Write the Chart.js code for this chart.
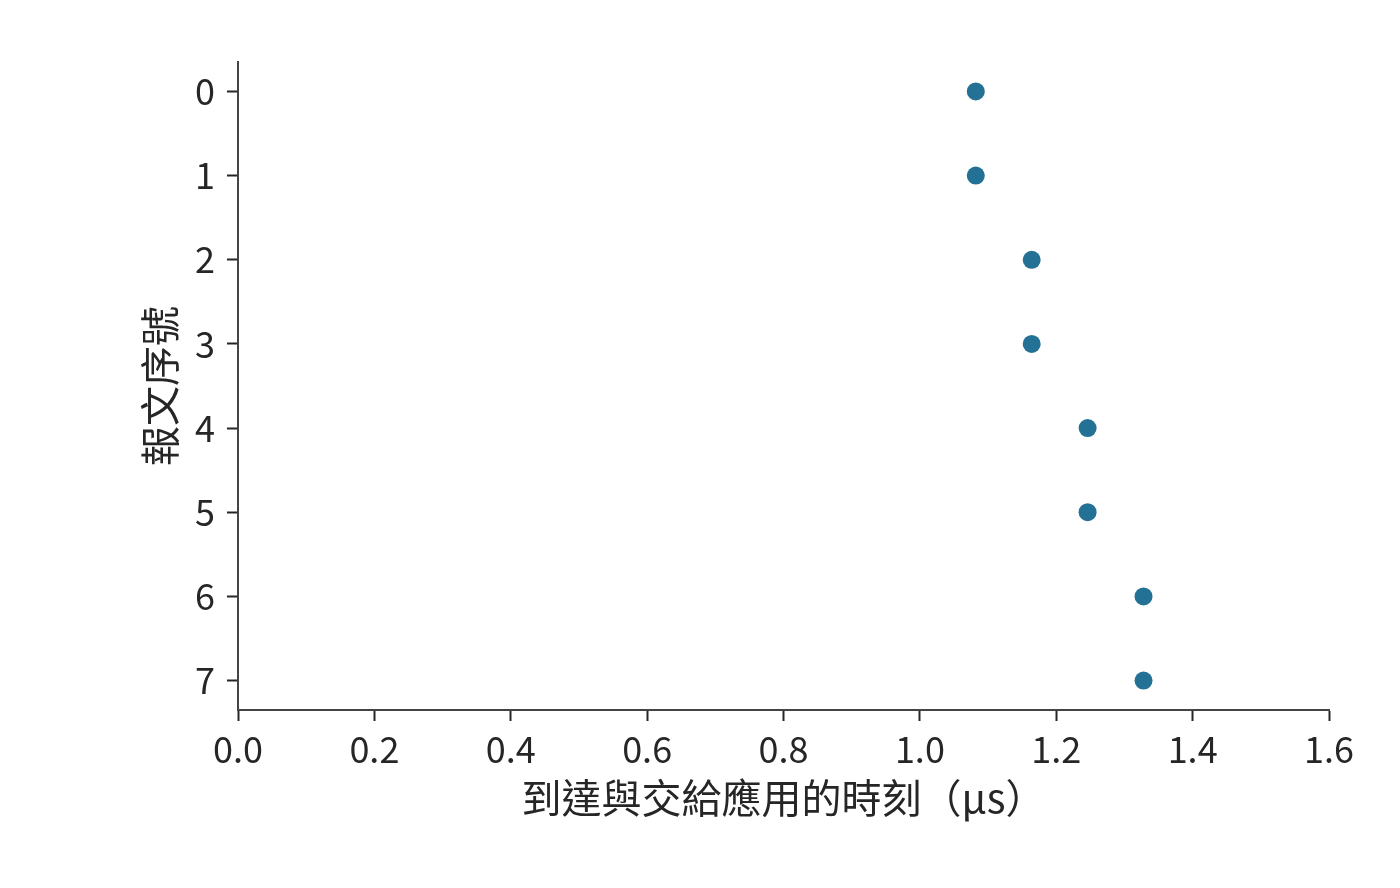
<!DOCTYPE html>
<html>
<head>
<meta charset="utf-8">
<script src="https://cdn.jsdelivr.net/npm/chart.js@4.4.1/dist/chart.umd.min.js"></script>
<style>
  html, body { margin: 0; padding: 0; background: #ffffff; }
  #wrap { width: 1400px; height: 888px; }
</style>
</head>
<body>
<div id="wrap"><canvas id="c" width="1400" height="888"></canvas></div>
<script>
const messageIds = [0, 1, 2, 3, 4, 5, 6, 7];
const deliveryTimes = [1.082, 1.082, 1.164, 1.164, 1.246, 1.246, 1.328, 1.328];
const xTickValues = [0, 0.2, 0.4, 0.6, 0.8, 1.0, 1.2, 1.4, 1.6];
const yTickValues = [0, 1, 2, 3, 4, 5, 6, 7];
const xTitle = '到達與交給應用的時刻（μs）';
const yTitle = '報文序號';

const FONT = '"Noto Sans CJK TC", "Noto Sans CJK SC", "Noto Sans", sans-serif';
const points = messageIds.map((id, i) => ({ x: deliveryTimes[i], y: id }));

new Chart(document.getElementById('c'), {
  type: 'scatter',
  data: {
    datasets: [{
      data: points,
      backgroundColor: '#247196',
      borderColor: '#247196',
      borderWidth: 0,
      pointRadius: 9,
      pointHoverRadius: 9
    }]
  },
  options: {
    responsive: false,
    devicePixelRatio: 1,
    animation: false,
    layout: { padding: { top: 62, right: 71, left: 0, bottom: 0 } },
    plugins: { legend: { display: false }, tooltip: { enabled: false } },
    scales: {
      x: {
        type: 'linear',
        min: 0,
        max: 1.6,
        afterBuildTicks: s => { s.ticks = xTickValues.map(v => ({ value: v })); },
        afterFit: s => { s.height = 178; },
        border: { display: true, color: '#444444', width: 2 },
        grid: { drawOnChartArea: false, drawTicks: true, tickLength: 11, tickWidth: 2, tickColor: '#262626' },
        ticks: {
          color: '#262626',
          padding: 7,
          font: { family: FONT, size: 36 },
          callback: v => Number(v).toFixed(1)
        },
        title: {
          display: true,
          text: xTitle,
          color: '#262626',
          font: { family: FONT, size: 40 },
          padding: { top: 0, bottom: 66 }
        }
      },
      y: {
        type: 'linear',
        reverse: true,
        min: -0.35,
        max: 7.35,
        afterBuildTicks: s => { s.ticks = yTickValues.map(v => ({ value: v })); },
        afterFit: s => { s.width = 238; },
        border: { display: true, color: '#444444', width: 2 },
        grid: { drawOnChartArea: false, drawTicks: true, tickLength: 11, tickWidth: 2, tickColor: '#262626' },
        ticks: {
          color: '#262626',
          padding: 12,
          font: { family: FONT, size: 36 },
          callback: v => String(v)
        },
        title: {
          display: true,
          text: yTitle,
          color: '#262626',
          font: { family: FONT, size: 40 },
          padding: { top: 136, bottom: 0 }
        }
      }
    }
  }
});
</script>
</body>
</html>
